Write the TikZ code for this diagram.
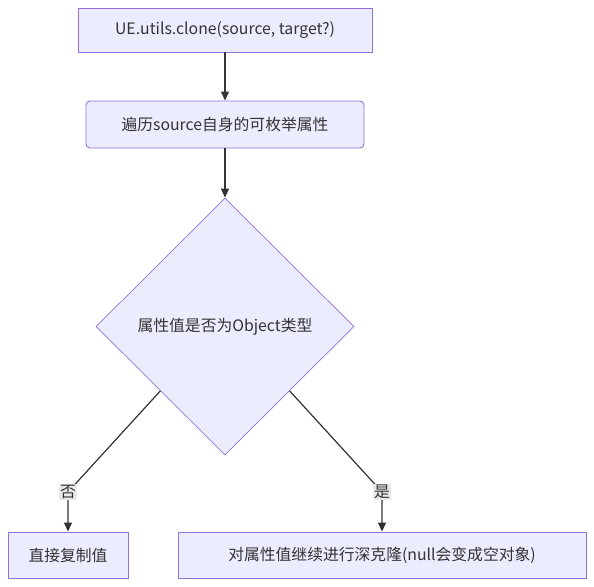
\documentclass[tikz,border=0pt]{standalone}
\usepackage{fontspec}
\setmainfont{Noto Sans CJK SC}
\usetikzlibrary{arrows.meta,shapes.geometric,positioning}
\definecolor{fond}{HTML}{ECECFF}
\definecolor{bord}{HTML}{9370DB}
\definecolor{trait}{HTML}{333333}
\definecolor{fondlabel}{HTML}{E8E8E8}

\begin{document}
\begin{tikzpicture}[x=1pt, y=-1pt, font=\fontsize{15.8}{18}\selectfont, text=trait]
%styles des boites, du losange et des fleches
\tikzset{etape/.style={draw=bord, fill=fond, line width=0.9pt, inner sep=0pt, minimum height=44pt},
  choix/.style={diamond, aspect=1, draw=bord, fill=fond, line width=0.7pt, inner sep=0pt, minimum width=258pt, minimum height=257pt},
  fleche/.style={draw=trait, line width=1.2pt, -{Triangle[length=9pt,width=8pt]}},
  etiquette/.style={fill=fondlabel, inner sep=1pt, text=trait}}
\useasboundingbox (0,0) rectangle (594,586);
\node[etape, minimum width=294pt] (clone) at (225,30) {UE.utils.clone(source, target?)};
\node[etape, rounded corners=4pt, minimum width=278pt, minimum height=47pt] (parcours) at (225,124.5) {遍历source自身的可枚举属性};
\node[choix] (test) at (225,326.5) {属性值是否为Object类型};
\node[etape, minimum width=120pt, minimum height=46pt] (copie) at (68,555) {直接复制值};
\node[etape, minimum width=408pt, minimum height=46pt] (profond) at (382,555) {对属性值继续进行深克隆(null会变成空对象)};
\coordinate (c_non) at (68,492);
\coordinate (c_oui) at (382,492);
%liaisons
\draw[fleche] (clone) -- (parcours);
\draw[fleche] (parcours) -- (test.north);
\draw[fleche] (test.south west) -- (c_non) -- (copie.north);
\draw[fleche] (test.south east) -- (c_oui) -- (profond.north);
\node[etiquette] (non) at (c_non) {否};
\node[etiquette] (oui) at (c_oui) {是};
\end{tikzpicture}
\end{document}
